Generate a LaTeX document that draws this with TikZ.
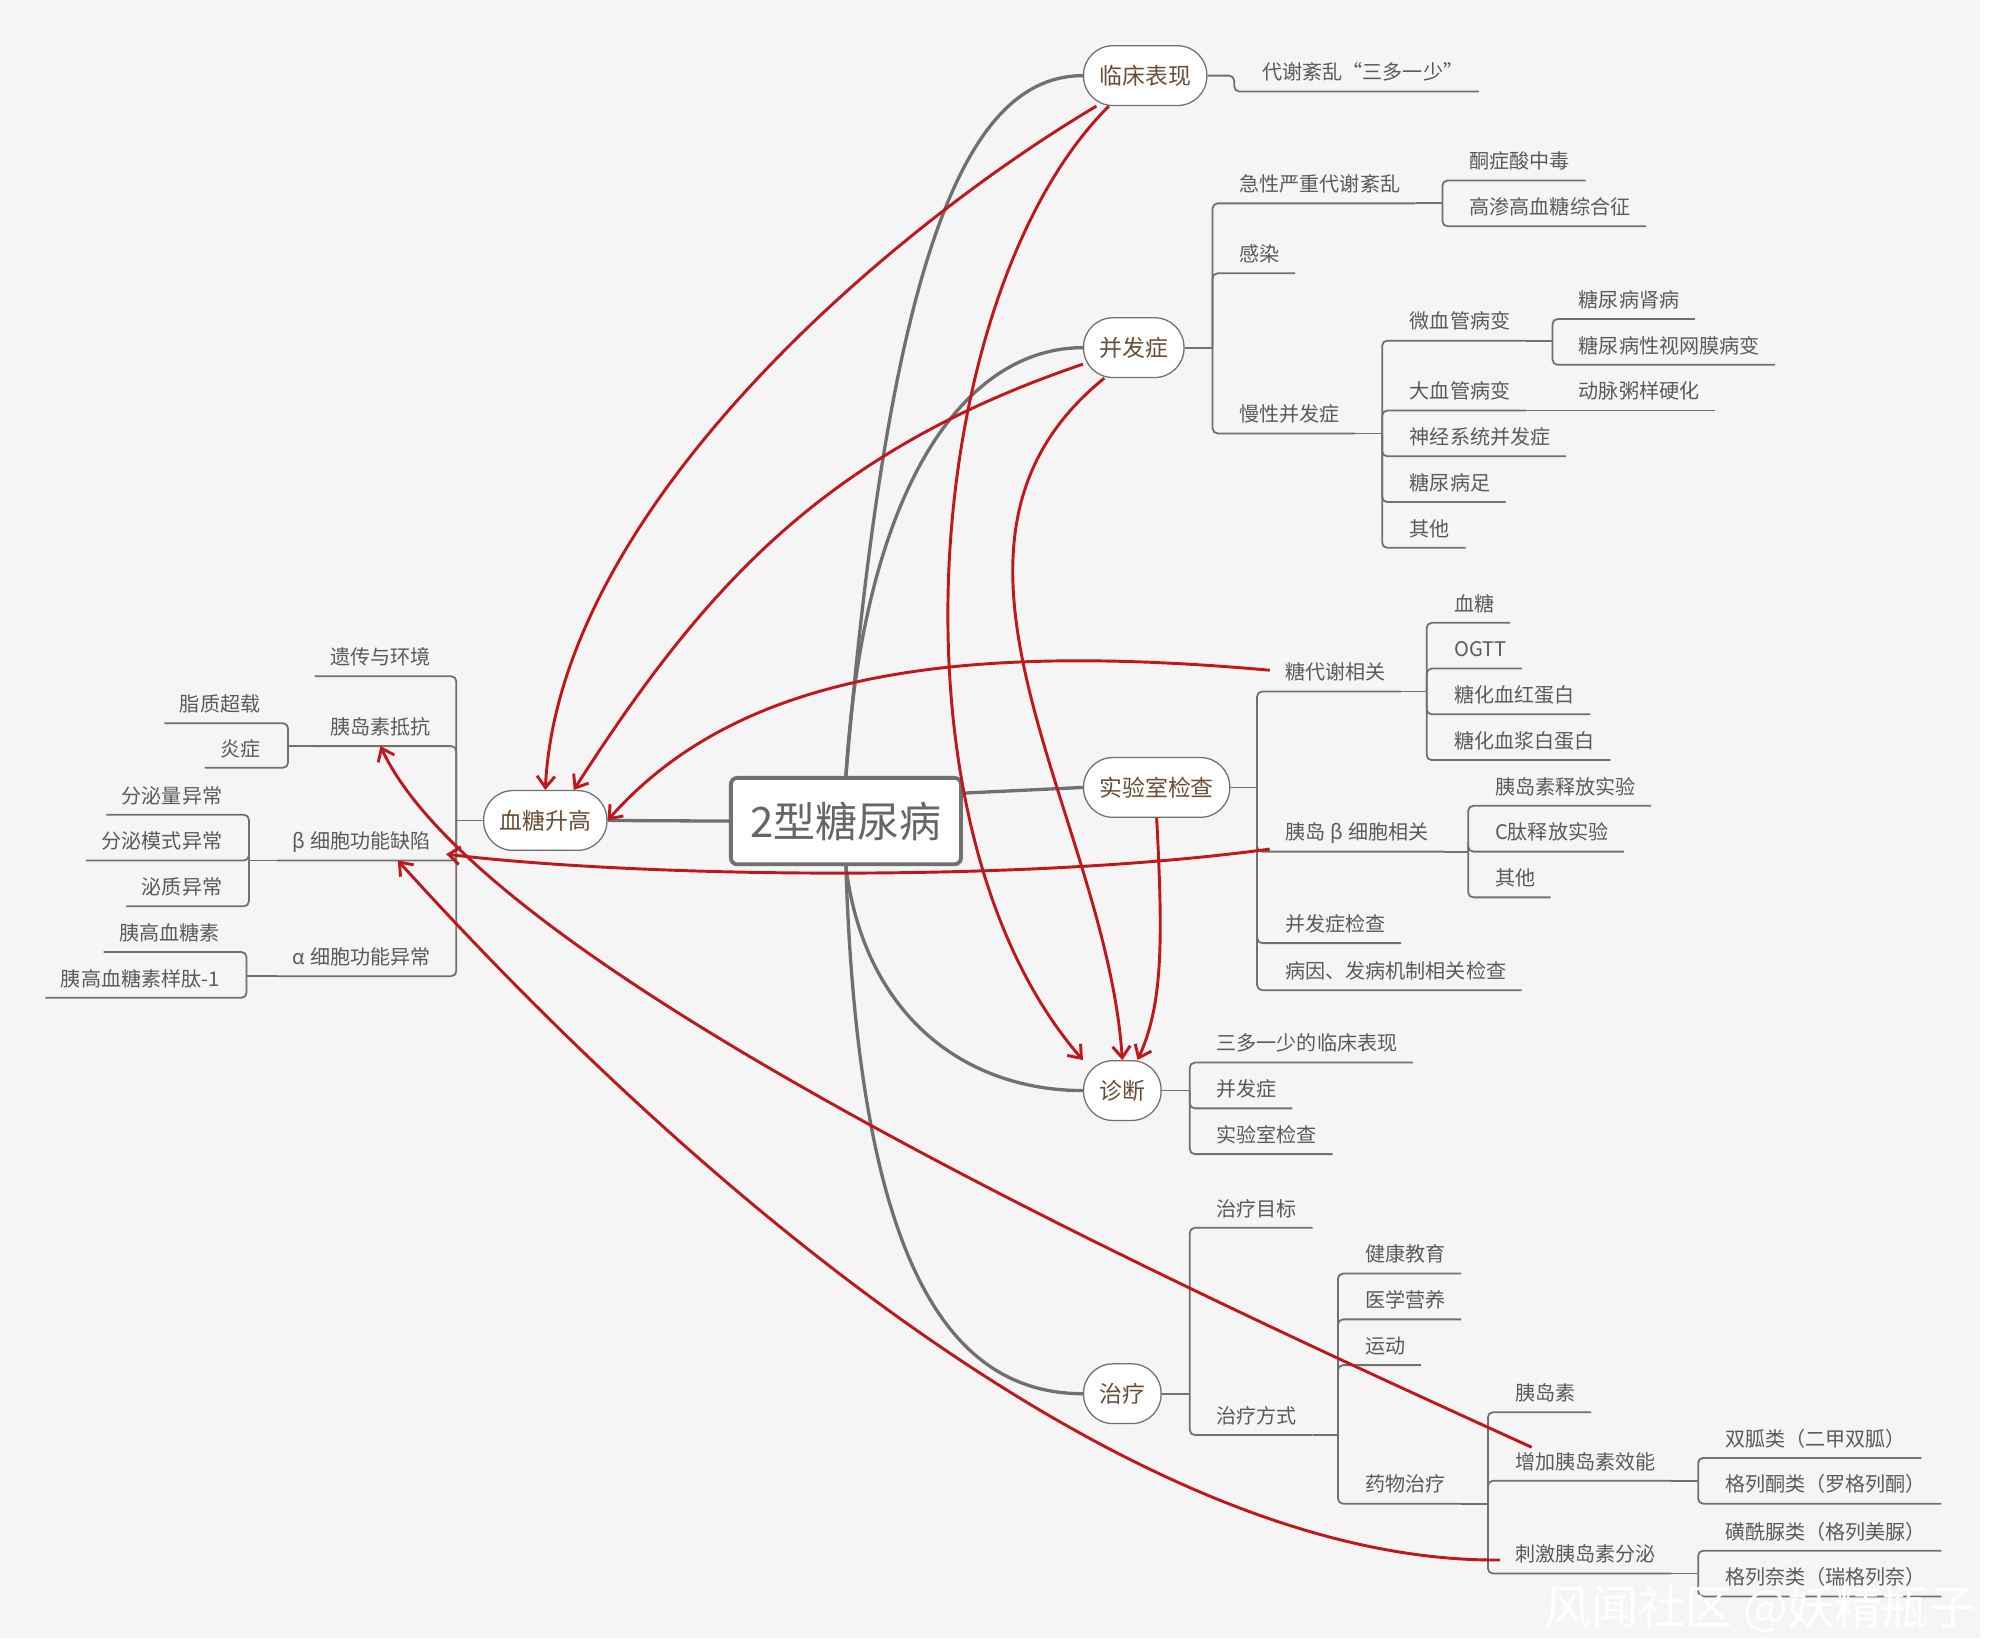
\documentclass[tikz,border=0pt]{standalone}
\usepackage{fontspec}
\setmainfont{Noto Sans CJK SC}
\usepackage{tikz}
\usetikzlibrary{arrows.meta}
\definecolor{bggray}{HTML}{F5F5F5}
\definecolor{linegray}{HTML}{707070}
\definecolor{leafgray}{HTML}{5A5A5A}
\definecolor{topicbrown}{HTML}{6A4D33}
\definecolor{rootgray}{HTML}{666666}
\definecolor{relred}{HTML}{C0171C}
\tikzstyle{root} = [rectangle, rounded corners=5pt, draw=linegray, line width=3pt, fill=white, minimum width=181pt, minimum height=68pt, text=rootgray, font=\fontsize{33}{33}\selectfont]
\tikzstyle{topic} = [rectangle, rounded corners=23pt, draw=linegray, line width=1pt, fill=white, minimum height=47pt, inner xsep=12.5pt, text=topicbrown, font=\fontsize{18}{18}\selectfont]
\tikzstyle{leaf} = [inner xsep=12pt, inner ysep=0pt, text height=12pt, text depth=9pt, text=leafgray, font=\fontsize{15.8}{16}\selectfont, anchor=south west]
\tikzstyle{leftleaf} = [leaf, anchor=south east]
\tikzstyle{branch} = [draw=linegray, line width=1.4pt, rounded corners=4pt]
\tikzstyle{trunk} = [draw=linegray, line width=2.6pt]
\tikzstyle{rel} = [draw=relred, line width=2.3pt, -{Straight Barb[length=9pt,width=14pt]}]

\begin{document}
\begin{tikzpicture}[x=1pt, y=-1pt]

    \useasboundingbox (0,0) rectangle (1568,1298);
    \fill[white] (0,0) rectangle (1568,1298);
    \fill[bggray] (0,0) rectangle (1558,1289);

    % Nodes
    \node (t2dm) [root] at (665.5,646) {2型糖尿病};
    \node (clinical) [topic, anchor=west] at (852,59.5) {临床表现};
    \node (complication) [topic, anchor=west] at (852,273.5) {并发症};
    \node (labtest) [topic, anchor=west] at (852,619.5) {实验室检查};
    \node (diagnosis) [topic, anchor=west] at (852,858) {诊断};
    \node (treatment) [topic, anchor=west] at (852,1096.5) {治疗};
    \node (hyperglycemia) [topic, anchor=east] at (478,645.5) {血糖升高};

    % clinical
    \node (metabolic) [leaf] at (981,72) {代谢紊乱“三多一少”};

    % complication
    \node (acute) [leaf] at (963,160) {急性严重代谢紊乱};
    \node (infection) [leaf] at (963,215) {感染};
    \node (chronic) [leaf] at (963,341) {慢性并发症};
    \node (ketoacidosis) [leaf] at (1144,142) {酮症酸中毒};
    \node (hyperosmolar) [leaf] at (1144,178) {高渗高血糖综合征};
    \node (microvascular) [leaf] at (1097,268) {微血管病变};
    \node (macrovascular) [leaf] at (1097,323) {大血管病变};
    \node (neuro) [leaf] at (1097,359) {神经系统并发症};
    \node (foot) [leaf] at (1097,395) {糖尿病足};
    \node (otherchronic) [leaf] at (1097,431) {其他};
    \node (nephropathy) [leaf] at (1230,251) {糖尿病肾病};
    \node (retinopathy) [leaf] at (1230,287) {糖尿病性视网膜病变};
    \node (atherosclerosis) [leaf] at (1230,323) {动脉粥样硬化};

    % lab tests
    \node (glucosemeta) [leaf] at (999,544) {糖代谢相关};
    \node (betacell) [leaf] at (999,670) {胰岛\hspace{0.25em}β\hspace{0.25em}细胞相关};
    \node (complicationtest) [leaf] at (999,742) {并发症检查};
    \node (etiology) [leaf] at (999,779) {病因、发病机制相关检查};
    \node (bloodglucose) [leaf] at (1132,490) {血糖};
    \node (ogtt) [leaf] at (1132,526) {OGTT};
    \node (hba1c) [leaf] at (1132,562) {糖化血红蛋白};
    \node (fructosamine) [leaf] at (1132,598) {糖化血浆白蛋白};
    \node (insulinrelease) [leaf] at (1164,634) {胰岛素释放实验};
    \node (cpeptide) [leaf] at (1164,670) {C肽释放实验};
    \node (otherbeta) [leaf] at (1164,706) {其他};

    % diagnosis
    \node (diagsymptom) [leaf] at (945,836) {三多一少的临床表现};
    \node (diagcomplication) [leaf] at (945,872) {并发症};
    \node (diaglab) [leaf] at (945,908) {实验室检查};

    % treatment
    \node (goal) [leaf] at (945,966) {治疗目标};
    \node (method) [leaf] at (945,1129) {治疗方式};
    \node (education) [leaf] at (1062,1002) {健康教育};
    \node (nutrition) [leaf] at (1062,1038) {医学营养};
    \node (exercise) [leaf] at (1062,1074) {运动};
    \node (drug) [leaf] at (1062,1183) {药物治疗};
    \node (insulin) [leaf] at (1180,1111) {胰岛素};
    \node (sensitizer) [leaf] at (1180,1165) {增加胰岛素效能};
    \node (secretagogue) [leaf] at (1180,1238) {刺激胰岛素分泌};
    \node (metformin) [leaf] at (1345,1147) {双胍类（二甲双胍）};
    \node (tzd) [leaf] at (1345,1183) {格列酮类（罗格列酮）};
    \node (sulfonylurea) [leaf] at (1345,1220) {磺酰脲类（格列美脲）};
    \node (glinide) [leaf] at (1345,1256) {格列奈类（瑞格列奈）};

    % hyperglycemia
    \node (genetics) [leftleaf] at (351,532) {遗传与环境};
    \node (resistance) [leftleaf] at (351,587) {胰岛素抵抗};
    \node (betadefect) [leftleaf] at (351,677) {β\hspace{0.25em}细胞功能缺陷};
    \node (alphadefect) [leftleaf] at (351,768) {α\hspace{0.25em}细胞功能异常};
    \node (lipid) [leftleaf] at (217,569) {脂质超载};
    \node (inflammation) [leftleaf] at (217,604) {炎症};
    \node (secretamount) [leftleaf] at (187,641) {分泌量异常};
    \node (secretpattern) [leftleaf] at (187,677) {分泌模式异常};
    \node (secretquality) [leftleaf] at (187,713) {泌质异常};
    \node (glucagon) [leftleaf] at (185,749) {胰高血糖素};
    \node (glp) [leftleaf] at (185,785) {胰高血糖素样肽-1};

    % Main curves
    \draw [trunk] (t2dm.north) .. controls (700,200) and (760,59.5) .. (clinical.west);
    \draw [trunk] (t2dm.north) .. controls (680,380) and (760,273.5) .. (complication.west);
    \draw [trunk] ([yshift=22pt]t2dm.east) -- (labtest.west);
    \draw [trunk] (t2dm.south) .. controls (680,800) and (760,858) .. (diagnosis.west);
    \draw [trunk] (t2dm.south) .. controls (675,980) and (740,1096.5) .. (treatment.west);
    \draw [trunk] (t2dm.west) -- (hyperglycemia.east);

    % Branches
    \draw [branch] (clinical.east) -- ++(21,0) |- (metabolic.south east);

    \draw [branch] (complication.east) -- ++(22,0) coordinate (complicationT);
    \draw [branch] (complicationT) |- (acute.south east);
    \draw [branch] (complicationT) |- (infection.south east);
    \draw [branch] (complicationT) |- (chronic.south east);
    \draw [branch] (acute.south east) -- ++(21,0) coordinate (acuteT);
    \draw [branch] (acuteT) |- (ketoacidosis.south east);
    \draw [branch] (acuteT) |- (hyperosmolar.south east);
    \draw [branch] (chronic.south east) -- ++(21,0) coordinate (chronicT);
    \draw [branch] (chronicT) |- (microvascular.south east);
    \draw [branch] (chronicT) |- (macrovascular.south east);
    \draw [branch] (chronicT) |- (neuro.south east);
    \draw [branch] (chronicT) |- (foot.south east);
    \draw [branch] (chronicT) |- (otherchronic.south east);
    \draw [branch] (microvascular.south east) -- ++(21,0) coordinate (microT);
    \draw [branch] (microT) |- (nephropathy.south east);
    \draw [branch] (microT) |- (retinopathy.south east);
    \draw [branch] (macrovascular.south east) -- (atherosclerosis.south east);

    \draw [branch] (labtest.east) -- ++(21,0) coordinate (labtestT);
    \draw [branch] (labtestT) |- (glucosemeta.south east);
    \draw [branch] (labtestT) |- (betacell.south east);
    \draw [branch] (labtestT) |- (complicationtest.south east);
    \draw [branch] (labtestT) |- (etiology.south east);
    \draw [branch] (glucosemeta.south east) -- ++(20,0) coordinate (glucosemetaT);
    \draw [branch] (glucosemetaT) |- (bloodglucose.south east);
    \draw [branch] (glucosemetaT) |- (ogtt.south east);
    \draw [branch] (glucosemetaT) |- (hba1c.south east);
    \draw [branch] (glucosemetaT) |- (fructosamine.south east);
    \draw [branch] (betacell.south east) -- ++(19,0) coordinate (betacellT);
    \draw [branch] (betacellT) |- (insulinrelease.south east);
    \draw [branch] (betacellT) |- (cpeptide.south east);
    \draw [branch] (betacellT) |- (otherbeta.south east);

    \draw [branch] (diagnosis.east) -- ++(22,0) coordinate (diagnosisT);
    \draw [branch] (diagnosisT) |- (diagsymptom.south east);
    \draw [branch] (diagnosisT) |- (diagcomplication.south east);
    \draw [branch] (diagnosisT) |- (diaglab.south east);

    \draw [branch] (treatment.east) -- ++(22,0) coordinate (treatmentT);
    \draw [branch] (treatmentT) |- (goal.south east);
    \draw [branch] (treatmentT) |- (method.south east);
    \draw [branch] (method.south east) -- ++(20,0) coordinate (methodT);
    \draw [branch] (methodT) |- (education.south east);
    \draw [branch] (methodT) |- (nutrition.south east);
    \draw [branch] (methodT) |- (exercise.south east);
    \draw [branch] (methodT) |- (drug.south east);
    \draw [branch] (drug.south east) -- ++(21,0) coordinate (drugT);
    \draw [branch] (drugT) |- (insulin.south east);
    \draw [branch] (drugT) |- (sensitizer.south east);
    \draw [branch] (drugT) |- (secretagogue.south east);
    \draw [branch] (sensitizer.south east) -- ++(21,0) coordinate (sensitizerT);
    \draw [branch] (sensitizerT) |- (metformin.south east);
    \draw [branch] (sensitizerT) |- (tzd.south east);
    \draw [branch] (secretagogue.south east) -- ++(21,0) coordinate (secretagogueT);
    \draw [branch] (secretagogueT) |- (sulfonylurea.south east);
    \draw [branch] (secretagogueT) |- (glinide.south east);

    \draw [branch] (hyperglycemia.west) -- ++(-21,0) coordinate (hyperglycemiaT);
    \draw [branch] (hyperglycemiaT) |- (genetics.south west);
    \draw [branch] (hyperglycemiaT) |- (resistance.south west);
    \draw [branch] (hyperglycemiaT) |- (betadefect.south west);
    \draw [branch] (hyperglycemiaT) |- (alphadefect.south west);
    \draw [branch] (resistance.south west) -- ++(-21,0) coordinate (resistanceT);
    \draw [branch] (resistanceT) |- (lipid.south west);
    \draw [branch] (resistanceT) |- (inflammation.south west);
    \draw [branch] (betadefect.south west) -- ++(-22,0) coordinate (betadefectT);
    \draw [branch] (betadefectT) |- (secretamount.south west);
    \draw [branch] (betadefectT) |- (secretpattern.south west);
    \draw [branch] (betadefectT) |- (secretquality.south west);
    \draw [branch] (alphadefect.south west) -- ++(-24,0) coordinate (alphadefectT);
    \draw [branch] (alphadefectT) |- (glucagon.south west);
    \draw [branch] (alphadefectT) |- (glp.south west);

    % Arrows
    \draw [rel] (clinical.212) .. controls (700,180) and (440,400) .. (hyperglycemia.north);
    \draw [rel] (clinical.220) .. controls (725,230) and (692,650) .. (diagnosis.north west);
    \draw [rel] (complication.198) .. controls (650,355) and (555,460) .. (hyperglycemia.47);
    \draw [rel] (complication.226) .. controls (705,430) and (870,640) .. (diagnosis.north);
    \draw [rel] ([yshift=6pt]glucosemeta.west) .. controls (750,505) and (580,530) .. (hyperglycemia.east);
    \draw [rel] ([yshift=2pt]betacell.south west) .. controls (800,695) and (500,690) .. ([yshift=5pt]betadefect.south east);
    \draw [rel] (labtest.south) .. controls (915,740) and (915,790) .. ([xshift=12pt]diagnosis.north);
    \draw [rel] ([shift={(25pt,5pt)}]sensitizer.north west) .. controls (900,1000) and (380,760) .. (resistance.south);
    \draw [rel] (secretagogue.west) .. controls (900,1230) and (560,950) .. ([xshift=-38pt]betadefect.south east);

    \node (watermark) [text=white, font=\fontsize{37}{37}\selectfont] at (1385,1266) {风闻社区 @妖精瓶子};

\end{tikzpicture}
\end{document}
